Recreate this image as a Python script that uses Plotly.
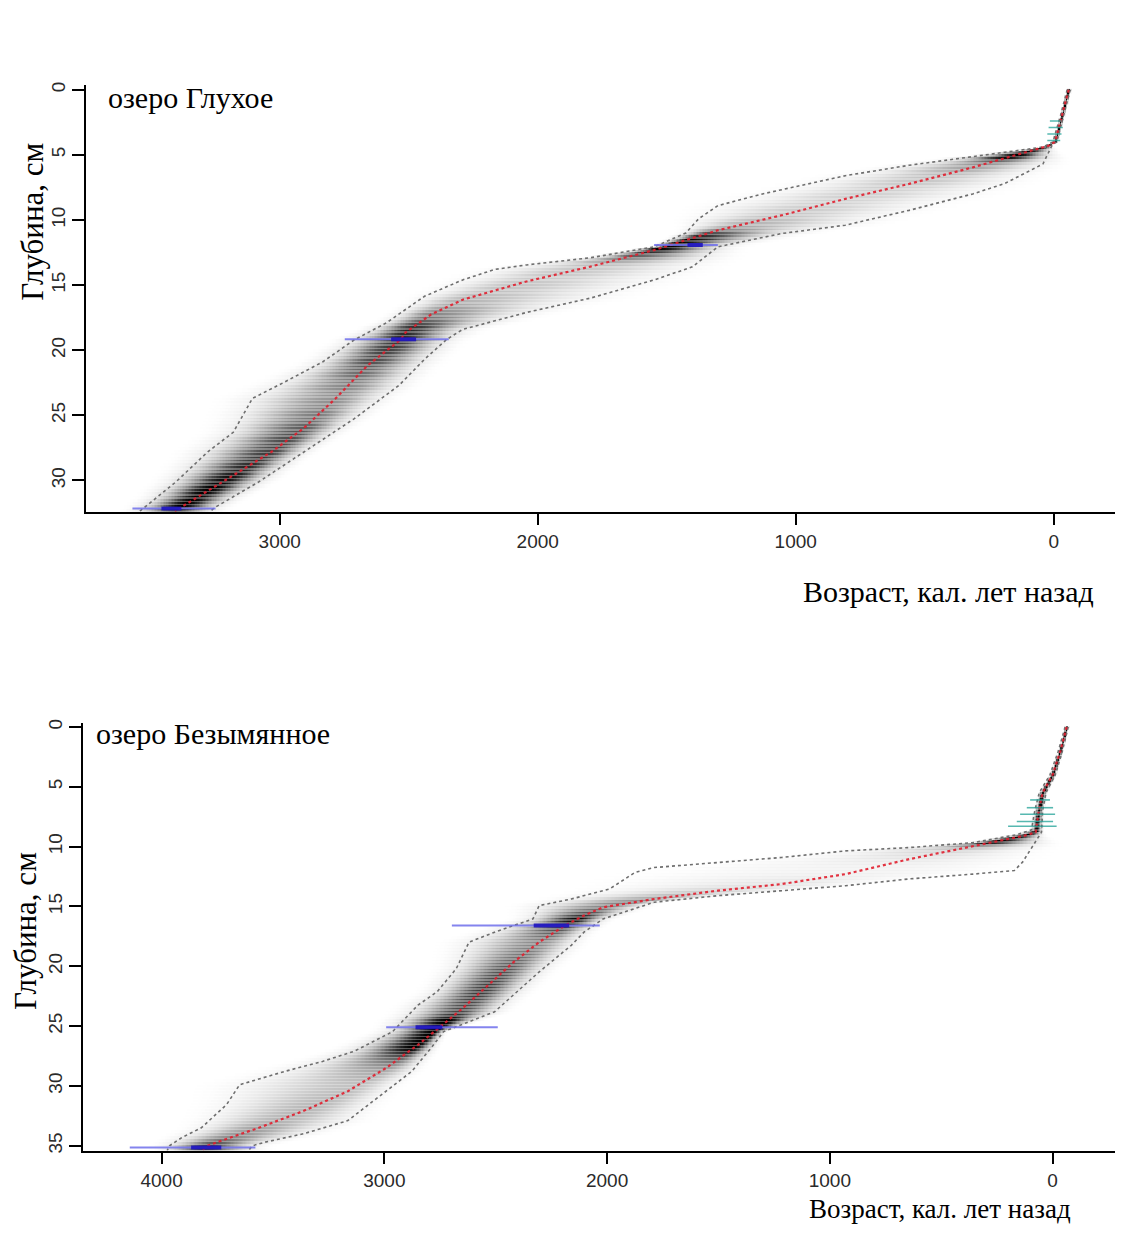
import numpy as np
import plotly.graph_objects as go

W, H = 1123, 1238
OFF = 8  # default page body margin
WF, HF = W - OFF, H - OFF

# ---------------- Lake Glukhoe (top panel) ----------------
g_mean_depth = [0, 1, 2, 3, 4, 4.3, 4.57, 5.96, 7.23, 8.38, 9.64, 10.79, 11.55, 12.31, 13.58, 14.72,
                16.12, 17.26, 18.65, 19.16, 21.19, 23.73, 26.0, 27.8, 29.3, 30.8, 32.0, 32.4]
g_mean_age = [-58, -45, -32, -18, -5, 20, 67, 314, 561, 808, 1055, 1302, 1426, 1549, 1796, 2044,
              2291, 2414, 2513, 2530, 2661, 2785, 2908, 3032, 3155, 3279, 3378, 3405]

g_upper_depth = [0, 2, 4, 4.4, 4.8, 5.8, 6.6, 7.7, 8.0, 8.9, 9.9, 11.0, 12.06, 12.9, 13.45, 13.8, 14.6,
                 15.86, 17.9, 19.2, 20.9, 22.46, 23.7, 26.3, 27.8, 30.1, 32.1, 32.4]
g_upper_age = [-52, -26, 3, 42, 190, 561, 808, 1055, 1129, 1302, 1376, 1426, 1549, 1796, 2044, 2167, 2291,
               2439, 2587, 2711, 2834, 2983, 3106, 3180, 3279, 3402, 3526, 3545]

g_lower_depth = [0, 2, 4, 4.2, 5.0, 5.7, 7.2, 8.0, 9.26, 10.4, 11.04, 12.06, 13.6, 14.6, 16.0, 17.1,
                 18.4, 19.16, 20.7, 22.7, 25.25, 27.8, 30.1, 32.1, 32.4]
g_lower_age = [-64, -38, -12, 5, 25, 42, 190, 314, 561, 808, 1055, 1302, 1401, 1549, 1796, 2044,
               2291, 2352, 2439, 2538, 2711, 2908, 3081, 3254, 3270]

g_date_depth = [11.93, 19.16, 32.16]
g_date_min = [1302, 2345, 3249]
g_date_max = [1549, 2748, 3571]
g_date_peak = [1390, 2520, 3420]

g_pb_depth = [2.4, 2.9, 3.4, 3.9]
g_pb_min = [-30, -35, -30, -25]
g_pb_max = [15, 20, 25, 25]

# ---------------- Lake Bezymyannoe (bottom panel) ----------------
b_mean_depth = [0, 2, 4, 5.5, 7, 8.8, 9.1, 9.94, 11.05, 12.3, 13.13, 13.68, 14.38, 15.07, 15.76, 16.6,
                17.98, 19.64, 21.58, 23.5, 25.04, 26.56, 28.5, 30.44, 32.1, 33.5, 34.6, 35.0, 35.4]
b_mean_age = [-63, -35, 0, 45, 62, 76, 129, 358, 644, 930, 1217, 1503, 1789, 2018, 2104, 2190,
              2305, 2419, 2534, 2648, 2748, 2849, 2992, 3164, 3364, 3564, 3736, 3793, 3820]

b_upper_depth = [0, 2, 4, 5.5, 7, 8.6, 9.0, 9.67, 10.08, 10.36, 10.91, 11.33, 11.75, 12.16, 13.55, 14.38,
                 14.93, 16.04, 17.15, 17.98, 20.19, 22.13, 23.24, 24.35, 25.46, 27.1, 27.95, 28.8,
                 29.9, 31.55, 33.5, 34.3, 35.0, 35.4]
b_upper_age = [-56, -26, 12, 60, 80, 95, 160, 358, 644, 930, 1217, 1503, 1789, 1875, 1990, 2161,
               2305, 2333, 2505, 2620, 2677, 2763, 2849, 2906, 2963, 3135, 3278, 3450,
               3650, 3708, 3822, 3908, 3965, 3975]

b_lower_depth = [0, 2, 4, 5.5, 7, 8.8, 11.3, 12.0, 12.3, 12.7, 13.27, 13.68, 14.1, 14.65, 16.04, 17.15,
                 18.25, 20.47, 22.4, 23.8, 25.46, 26.84, 28.78, 30.44, 32.9, 34.0, 34.7, 35.0, 35.4]
b_lower_age = [-70, -44, -12, 30, 45, 50, 135, 172, 358, 644, 930, 1217, 1503, 1789, 2018, 2104,
               2161, 2305, 2419, 2505, 2734, 2791, 2877, 2992, 3164, 3364, 3536, 3593, 3610]

b_date_depth = [16.6, 25.1, 35.15]
b_date_min = [2033, 2491, 3579]
b_date_max = [2697, 2992, 4143]
b_date_peak = [2250, 2800, 3800]

b_pb_depth = [6.1, 6.75, 7.3, 7.9, 8.3]
b_pb_min = [12, -2, -11, -2, -18]
b_pb_max = [101, 116, 146, 161, 200]

# ---------------- layout geometry (page pixels) ----------------
panels = [
    dict(x0=86, x1=1118, y0=80, y1=510, xr=[3751, -249], yr=[32.4, -0.4],
         xt=[3000, 2000, 1000, 0], yt=[0, 5, 10, 15, 20, 25, 30],
         mean=(g_mean_depth, g_mean_age), up=(g_upper_depth, g_upper_age), lo=(g_lower_depth, g_lower_age),
         dates=(g_date_depth, g_date_min, g_date_max, g_date_peak), pb=(g_pb_depth, g_pb_min, g_pb_max),
         dmax=32.4),
    dict(x0=83, x1=1115, y0=723, y1=1153, xr=[4353, -280], yr=[35.4, -0.3],
         xt=[4000, 3000, 2000, 1000, 0], yt=[0, 5, 10, 15, 20, 25, 30, 35],
         mean=(b_mean_depth, b_mean_age), up=(b_upper_depth, b_upper_age), lo=(b_lower_depth, b_lower_age),
         dates=(b_date_depth, b_date_min, b_date_max, b_date_peak), pb=(b_pb_depth, b_pb_min, b_pb_max),
         dmax=35.4),
]


def px_x(p):
    return (p - OFF) / WF


def px_y(p):
    return 1 - (p - OFF) / HF


fig = go.Figure()
tick_font = dict(family="Liberation Sans, Arial", size=19, color="#2a2a2a")

for i, P in enumerate(panels):
    ax = "" if i == 0 else str(i + 1)
    xref, yref = "x" + ax, "y" + ax

    # probability cloud
    depths = np.arange(0, P["dmax"] + 1e-9, 0.125)
    ages = np.arange(-120, P["xr"][0] + 10, 6.0)
    m = np.interp(depths, *P["mean"])
    u = np.interp(depths, *P["up"])
    l = np.interp(depths, *P["lo"])
    sL = np.maximum((u - m) / 2.0, 4.0)
    sR = np.maximum((m - l) / 2.0, 4.0)
    amp = np.minimum(1.0, 79.0 / ((sL + sR) / 2.0)) ** 1.7
    A = ages[None, :]
    M = m[:, None]
    S = np.where(A > M, sL[:, None], sR[:, None])
    Z = amp[:, None] * np.exp(-0.5 * ((A - M) / S) ** 2)
    stripe = np.where((np.arange(len(depths)) % 2) == 1, 0.72, 1.0)
    Z = Z * stripe[:, None]
    Z = np.round(Z, 3)
    fig.add_trace(go.Heatmap(x=ages, y=depths, z=Z, xaxis=xref, yaxis=yref,
                             colorscale=[[0, "rgba(255,255,255,0)"], [0.02, "rgb(250,250,250)"],
                                         [0.5, "rgb(140,140,140)"], [1, "rgb(0,0,0)"]],
                             zmin=0, zmax=1, showscale=False, hoverinfo="skip"))

    # 95% range lines
    for dep, age in (P["up"], P["lo"]):
        fig.add_trace(go.Scatter(x=age, y=dep, xaxis=xref, yaxis=yref, mode="lines",
                                 line=dict(color="#6e6e6e", width=1.6, dash="dot"),
                                 hoverinfo="skip", showlegend=False))
    # mean
    fig.add_trace(go.Scatter(x=P["mean"][1], y=P["mean"][0], xaxis=xref, yaxis=yref, mode="lines",
                             line=dict(color="rgba(225,30,45,0.9)", width=2.2, dash="dot"),
                             hoverinfo="skip", showlegend=False))

    # Pb-210 dates (teal)
    pd_, pmin, pmax = P["pb"]
    for d, a0, a1 in zip(pd_, pmin, pmax):
        fig.add_trace(go.Scatter(x=[a0, a1], y=[d, d], xaxis=xref, yaxis=yref, mode="lines",
                                 line=dict(color="rgba(30,160,150,0.75)", width=1.6),
                                 hoverinfo="skip", showlegend=False))

    # 14C dates (blue)
    dd, dmin, dmaxs, dpk = P["dates"]
    for d, a0, a1, pk in zip(dd, dmin, dmaxs, dpk):
        fig.add_trace(go.Scatter(x=[a0, a1], y=[d, d], xaxis=xref, yaxis=yref, mode="lines",
                                 line=dict(color="rgba(110,110,235,0.85)", width=2),
                                 hoverinfo="skip", showlegend=False))
        w = (a1 - a0) * 0.12
        fig.add_trace(go.Scatter(x=[pk - w, pk + w], y=[d, d], xaxis=xref, yaxis=yref, mode="lines",
                                 line=dict(color="rgba(30,20,190,0.9)", width=4),
                                 hoverinfo="skip", showlegend=False))

    xa = dict(domain=[px_x(P["x0"]), px_x(P["x1"])], range=P["xr"], anchor=yref,
              showline=True, linecolor="black", linewidth=1.5, ticks="outside", ticklen=12,
              tickwidth=1.5, tickcolor="black", tickvals=P["xt"], tickfont=tick_font,
              showgrid=False, zeroline=False)
    ya = dict(domain=[px_y(P["y1"]), px_y(P["y0"])], range=P["yr"], anchor=xref,
              showline=True, linecolor="black", linewidth=1.5, ticks="outside", ticklen=12,
              tickwidth=1.5, tickcolor="black", tickvals=P["yt"], tickfont=tick_font,
              tickangle=-90, showgrid=False, zeroline=False)
    fig.layout["xaxis" + ax] = xa
    fig.layout["yaxis" + ax] = ya

serif = "Liberation Serif, Times New Roman, serif"
ann = [
    dict(text="озеро Глухое", x=px_x(106), y=px_y(93), xanchor="left", yanchor="middle",
         font=dict(family=serif, size=30, color="black")),
    dict(text="озеро Безымянное", x=px_x(94), y=px_y(733), xanchor="left", yanchor="middle",
         font=dict(family=serif, size=30, color="black")),
    dict(text="Глубина, см", x=px_x(33), y=px_y(218), xanchor="center", yanchor="middle",
         textangle=-90, font=dict(family=serif, size=31, color="black")),
    dict(text="Глубина, см", x=px_x(26), y=px_y(932), xanchor="center", yanchor="middle",
         textangle=-90, font=dict(family=serif, size=31, color="black")),
    dict(text="Возраст, кал. лет назад", x=px_x(1096), y=px_y(590), xanchor="right", yanchor="middle",
         font=dict(family=serif, size=30, color="black")),
    dict(text="Возраст, кал. лет назад", x=px_x(1073), y=px_y(1212), xanchor="right", yanchor="middle",
         font=dict(family=serif, size=27, color="black")),
]
for a in ann:
    a.update(xref="paper", yref="paper", showarrow=False)

fig.update_layout(width=WF, height=HF, margin=dict(l=0, r=0, t=0, b=0),
                  paper_bgcolor="white", plot_bgcolor="white", showlegend=False,
                  annotations=ann)

fig.write_html("out.html")
